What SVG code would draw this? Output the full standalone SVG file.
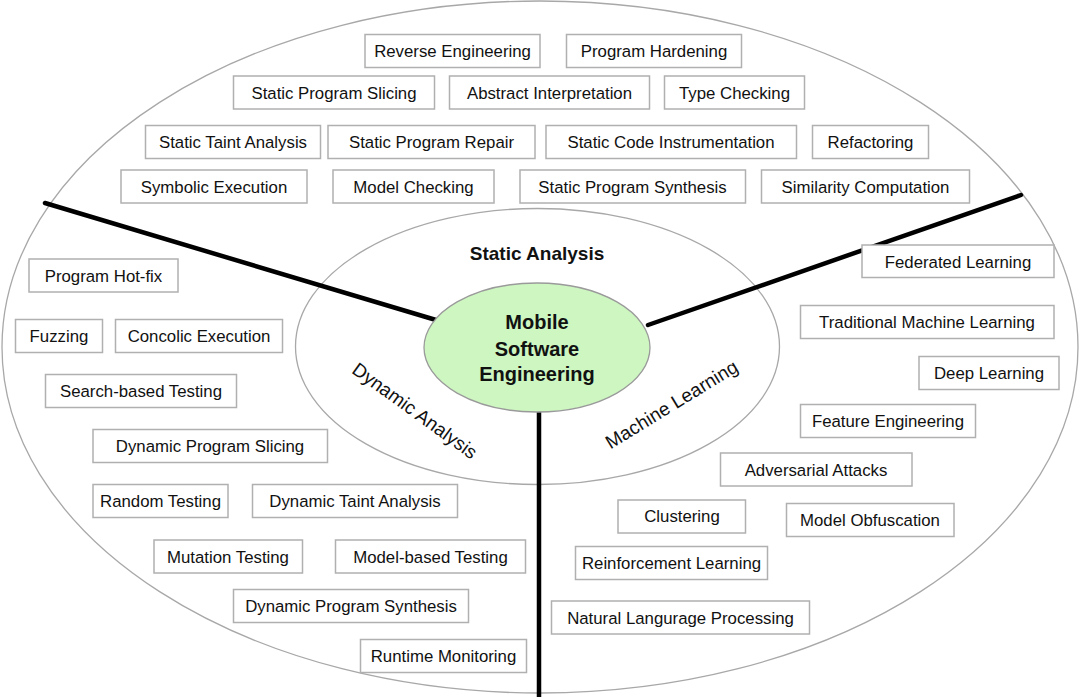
<svg xmlns="http://www.w3.org/2000/svg" width="1080" height="697" viewBox="0 0 1080 697">
<style>
.ell{fill:none;stroke:#a8a8a8;stroke-width:1.3}
.box rect{fill:#fff;stroke:#b0b0b0;stroke-width:1.5}
.box text{font-family:"Liberation Sans",Arial,sans-serif;font-size:16.8px;fill:#111;text-anchor:middle}
.conn line{stroke:#000;stroke-width:4.5;stroke-linecap:round}
.sect{font-family:"Liberation Sans",Arial,sans-serif;font-size:19px;fill:#111;text-anchor:middle}
.core{font-family:"Liberation Sans",Arial,sans-serif;font-size:20px;font-weight:bold;fill:#111;text-anchor:middle}
</style>
<rect width="1080" height="697" fill="#fff"/>
<g id="outer"><ellipse class="ell" cx="540" cy="347" rx="538" ry="346"/></g>
<g id="middle"><ellipse class="ell" cx="537.5" cy="346.5" rx="242" ry="138"/></g>
<g id="connectors" class="conn">
<line x1="45" y1="203" x2="436" y2="320"/>
<line x1="1021" y1="195" x2="648" y2="325"/>
<line x1="539" y1="412" x2="539" y2="697" stroke-linecap="butt"/>
</g>
<g id="core">
<ellipse cx="537" cy="347.5" rx="113" ry="64.5" fill="#cdf6c1" stroke="#9a9a9a" stroke-width="1.3"/>
<text class="core" x="537" y="329">Mobile</text>
<text class="core" x="537" y="356">Software</text>
<text class="core" x="537" y="381">Engineering</text>
</g>
<g id="sections">
<text class="sect" x="537" y="260" font-size="18" font-weight="bold">Static Analysis</text>
<text class="sect" transform="translate(411,416) rotate(36)">Dynamic Analysis</text>
<text class="sect" transform="translate(675,410) rotate(-31.5)">Machine Learning</text>
</g>
<g id="n1" class="box"><rect x="365" y="34.5" width="175" height="33"/><text x="452.5" y="57">Reverse Engineering</text></g>
<g id="n2" class="box"><rect x="566.5" y="34.5" width="175" height="33"/><text x="654" y="57">Program Hardening</text></g>
<g id="n3" class="box"><rect x="233.5" y="76" width="201" height="33"/><text x="334" y="98.5">Static Program Slicing</text></g>
<g id="n4" class="box"><rect x="449.5" y="76" width="200" height="33"/><text x="549.5" y="98.5">Abstract Interpretation</text></g>
<g id="n5" class="box"><rect x="664.5" y="76" width="140" height="33"/><text x="734.5" y="98.5">Type Checking</text></g>
<g id="n6" class="box"><rect x="145.5" y="125.5" width="175" height="33"/><text x="233" y="148">Static Taint Analysis</text></g>
<g id="n7" class="box"><rect x="328" y="125.5" width="207" height="33"/><text x="431.5" y="148">Static Program Repair</text></g>
<g id="n8" class="box"><rect x="546" y="125.5" width="250.5" height="33"/><text x="671" y="148">Static Code Instrumentation</text></g>
<g id="n9" class="box"><rect x="812.5" y="125.5" width="116" height="33"/><text x="870.5" y="148">Refactoring</text></g>
<g id="n10" class="box"><rect x="121" y="170" width="186" height="33"/><text x="214" y="192.5">Symbolic Execution</text></g>
<g id="n11" class="box"><rect x="333" y="170" width="161" height="33"/><text x="413.5" y="192.5">Model Checking</text></g>
<g id="n12" class="box"><rect x="520" y="170" width="225.5" height="33"/><text x="632.5" y="192.5">Static Program Synthesis</text></g>
<g id="n13" class="box"><rect x="761.5" y="170" width="208" height="33"/><text x="865.5" y="192.5">Similarity Computation</text></g>
<g id="n14" class="box"><rect x="29" y="259" width="149" height="33"/><text x="103.5" y="281.5">Program Hot-fix</text></g>
<g id="n15" class="box"><rect x="15.5" y="319.5" width="87" height="33"/><text x="59" y="342">Fuzzing</text></g>
<g id="n16" class="box"><rect x="115.5" y="319.5" width="167" height="33"/><text x="199" y="342">Concolic Execution</text></g>
<g id="n17" class="box"><rect x="45.5" y="374.5" width="191" height="33"/><text x="141" y="397">Search-based Testing</text></g>
<g id="n18" class="box"><rect x="93" y="429.5" width="234.5" height="33"/><text x="210" y="452">Dynamic Program Slicing</text></g>
<g id="n19" class="box"><rect x="93" y="484.5" width="135" height="33"/><text x="160.5" y="507">Random Testing</text></g>
<g id="n20" class="box"><rect x="252.5" y="484.5" width="205" height="33"/><text x="355" y="507">Dynamic Taint Analysis</text></g>
<g id="n21" class="box"><rect x="154" y="540" width="148.5" height="33"/><text x="228" y="562.5">Mutation Testing</text></g>
<g id="n22" class="box"><rect x="335.5" y="540" width="190" height="33"/><text x="430.5" y="562.5">Model-based Testing</text></g>
<g id="n23" class="box"><rect x="233.5" y="589.5" width="235" height="33"/><text x="351" y="612">Dynamic Program Synthesis</text></g>
<g id="n24" class="box"><rect x="360.5" y="639.5" width="166" height="33"/><text x="443.5" y="662">Runtime Monitoring</text></g>
<g id="n25" class="box"><rect x="862" y="245" width="192" height="32.5"/><text x="958" y="267.5">Federated Learning</text></g>
<g id="n26" class="box"><rect x="800.5" y="305.5" width="253.5" height="33"/><text x="927" y="328">Traditional Machine Learning</text></g>
<g id="n27" class="box"><rect x="919" y="356.5" width="140" height="33"/><text x="989" y="379">Deep Learning</text></g>
<g id="n28" class="box"><rect x="800.5" y="404.5" width="175" height="33"/><text x="888" y="427">Feature Engineering</text></g>
<g id="n29" class="box"><rect x="720.5" y="453" width="191.5" height="33"/><text x="816" y="475.5">Adversarial Attacks</text></g>
<g id="n30" class="box"><rect x="618" y="500" width="127.5" height="33"/><text x="682" y="522">Clustering</text></g>
<g id="n31" class="box"><rect x="786.5" y="503.5" width="167.5" height="33"/><text x="870" y="526">Model Obfuscation</text></g>
<g id="n32" class="box"><rect x="575.5" y="546.5" width="192" height="33"/><text x="671.5" y="569">Reinforcement Learning</text></g>
<g id="n33" class="box"><rect x="551.5" y="601" width="258" height="33"/><text x="680.5" y="623.5">Natural Langurage Processing</text></g>
</svg>
